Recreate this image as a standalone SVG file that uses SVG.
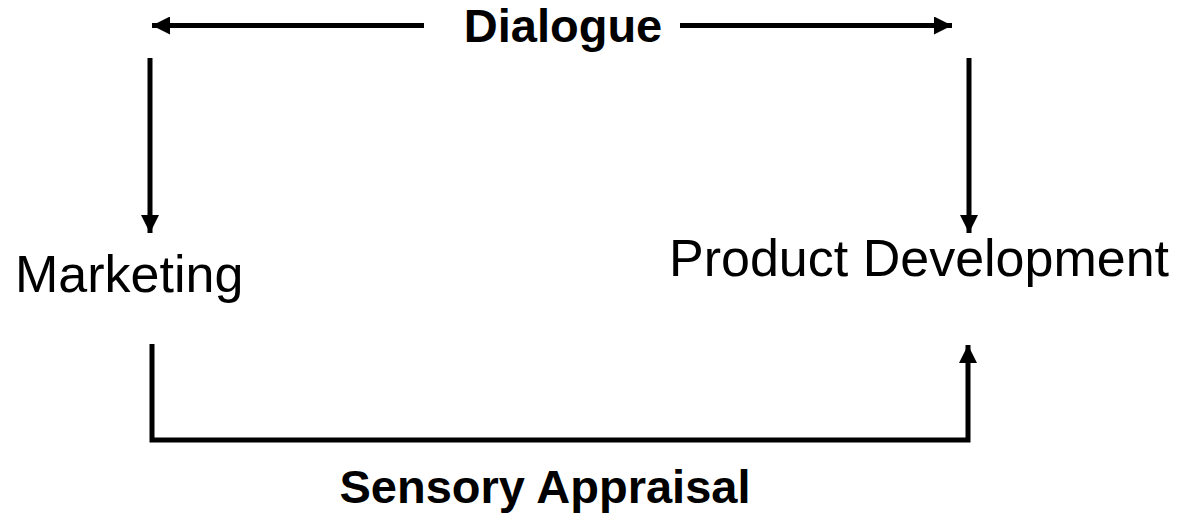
<svg xmlns="http://www.w3.org/2000/svg" width="1188" height="517" viewBox="0 0 1188 517">
  <style>
    .lbl { font-family: "Liberation Sans", Arial, sans-serif; fill: #000; }
    .bold { font-weight: bold; font-size: 47px; }
    .node { font-size: 52px; }
    .conn { stroke: #000; stroke-width: 5; fill: none; }
  </style>
  <defs>
    <marker id="head" viewBox="0 0 10 10" refX="10" refY="5" markerWidth="3.6" markerHeight="3.6" markerUnits="strokeWidth" orient="auto">
      <path d="M0,0 L10,5 L0,10 z" fill="#000"/>
    </marker>
  </defs>

  <g id="connectors">
    <!-- dialogue arrows along the top -->
    <line class="conn" x1="424" y1="25.5" x2="152" y2="25.5" marker-end="url(#head)"/>
    <line class="conn" x1="680" y1="25.5" x2="952" y2="25.5" marker-end="url(#head)"/>
    <!-- down arrows to each side -->
    <line class="conn" x1="150" y1="58" x2="150" y2="233" marker-end="url(#head)"/>
    <line class="conn" x1="969" y1="58" x2="969" y2="233" marker-end="url(#head)"/>
    <!-- sensory appraisal loop along the bottom -->
    <polyline class="conn" points="152,344 152,440 968,440 968,345" marker-end="url(#head)"/>
  </g>

  <g id="dialogue">
    <text class="lbl bold" x="563" y="42" text-anchor="middle">Dialogue</text>
  </g>
  <g id="marketing">
    <text class="lbl node" x="15" y="292">Marketing</text>
  </g>
  <g id="product-development">
    <text class="lbl node" x="669" y="276">Product Development</text>
  </g>
  <g id="sensory-appraisal">
    <text class="lbl bold" x="545" y="503" text-anchor="middle">Sensory Appraisal</text>
  </g>
</svg>
